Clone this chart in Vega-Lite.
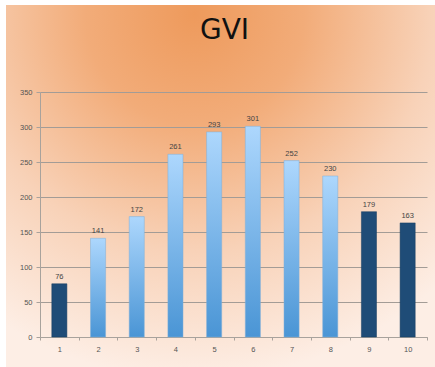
{
  "$schema": "https://vega.github.io/schema/vega-lite/v6.json",
  "width": 429,
  "height": 362,
  "autosize": "none",
  "padding": {"left": 6, "top": 5, "right": 0, "bottom": 0},
  "background": "#ffffff",
  "title": {
    "text": "GVI",
    "orient": "top",
    "frame": "group",
    "anchor": "middle",
    "offset": -40,
    "dx": 4,
    "font": "DejaVu Sans",
    "fontSize": 28,
    "fontWeight": "normal",
    "color": "#111111"
  },
  "config": {
    "view": {
      "stroke": null,
      "fill": {
        "gradient": "radial",
        "x1": 0.44, "y1": 0.1, "r1": 0,
        "x2": 0.44, "y2": 0.1, "r2": 0.85,
        "stops": [
          {"offset": 0, "color": "#EE9A5C"},
          {"offset": 0.3, "color": "#F2AC79"},
          {"offset": 0.65, "color": "#F8D2B8"},
          {"offset": 1, "color": "#FDEEE5"}
        ]
      }
    },
    "axis": {
      "labelFont": "Liberation Sans",
      "labelFontSize": 7.5,
      "labelColor": "#555555",
      "domainColor": "#A8A29C",
      "tickColor": "#A8A29C",
      "gridColor": "#A39C96",
      "title": null
    }
  },
  "data": {
    "values": [
      {"n": 1, "gvi": 76},
      {"n": 2, "gvi": 141},
      {"n": 3, "gvi": 172},
      {"n": 4, "gvi": 261},
      {"n": 5, "gvi": 293},
      {"n": 6, "gvi": 301},
      {"n": 7, "gvi": 252},
      {"n": 8, "gvi": 230},
      {"n": 9, "gvi": 179},
      {"n": 10, "gvi": 163}
    ]
  },
  "encoding": {
    "x": {
      "field": "n",
      "type": "ordinal",
      "scale": {"range": [34, 421], "paddingInner": 0, "paddingOuter": 0},
      "axis": {
        "offset": -30,
        "labelAngle": 0,
        "tickBand": "extent",
        "tickSize": 3,
        "labelPadding": 5,
        "grid": false
      }
    },
    "y": {
      "field": "gvi",
      "type": "quantitative",
      "scale": {"domain": [0, 350], "range": [332, 87], "nice": false},
      "axis": {
        "offset": -34,
        "values": [0, 50, 100, 150, 200, 250, 300, 350],
        "grid": true,
        "tickSize": 4,
        "labelPadding": 4
      }
    }
  },
  "layer": [
    {
      "transform": [{"filter": "datum.n > 1 && datum.n < 9"}],
      "mark": {
        "type": "bar",
        "width": {"band": 0.39},
        "fill": {
          "gradient": "linear",
          "x1": 0, "y1": 0, "x2": 0, "y2": 1,
          "stops": [
            {"offset": 0, "color": "#ADD7FD"},
            {"offset": 1, "color": "#4A95D5"}
          ]
        },
        "stroke": "#7FAFD8",
        "strokeWidth": 0.5
      }
    },
    {
      "transform": [{"filter": "datum.n == 1 || datum.n >= 9"}],
      "mark": {
        "type": "bar",
        "width": {"band": 0.39},
        "fill": "#1F4C77",
        "stroke": "#173C60",
        "strokeWidth": 0.5
      }
    },
    {
      "mark": {
        "type": "text",
        "baseline": "bottom",
        "dy": -3,
        "font": "Liberation Sans",
        "fontSize": 7.5,
        "color": "#444444"
      },
      "encoding": {"text": {"field": "gvi", "type": "quantitative"}}
    }
  ]
}
